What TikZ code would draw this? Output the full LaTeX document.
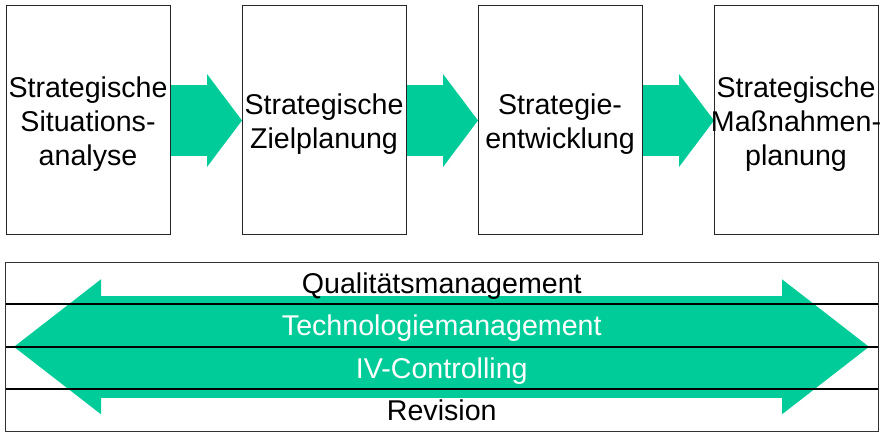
\documentclass[tikz,border=0pt]{standalone}
\usepackage{fontspec}
\setmainfont{Liberation Sans}
\usetikzlibrary{positioning,arrows.meta,backgrounds}
\definecolor{flowgreen}{RGB}{0,204,153}

\begin{document}
\begin{tikzpicture}[x=1pt,y=-1pt,
  font=\fontsize{28.6}{34}\selectfont,
  stage/.style={shape=rectangle, draw=black!85, line width=1pt,
    minimum width=164pt, minimum height=229pt, inner sep=0pt, outer sep=0pt},
  stagetext/.style={align=center, inner sep=0pt, yshift=-4pt},
  band/.style={shape=rectangle, draw=black!80, line width=1pt,
    minimum width=872.5pt, minimum height=42.4pt, inner sep=0pt, outer sep=0pt,
    text height=20.5pt, text depth=0pt},
  flow/.style={flowgreen, line width=71pt,
    -{Triangle[length=35pt 0 0, width=93pt 0 0, line width=0pt 0 0]}},
  bigflow/.style={flowgreen, line width=102pt,
    {Triangle[length=87pt 0 0, width=135pt 0 0, line width=0pt 0 0]}-{Triangle[length=87pt 0 0, width=135pt 0 0, line width=0pt 0 0]}},
  sepline/.style={black, line width=2pt}]
  \useasboundingbox (0,0) rectangle (885,438);
  % planning stages
  \node[stage] (b1) at (88,120.5) {};
  \node[stage, right=72pt of b1] (b2) {};
  \node[stage, right=72pt of b2] (b3) {};
  \node[stage, right=72pt of b3] (b4) {};
  \node[stagetext] (t1) at (b1) {Strategische\\Situations-\\analyse};
  \node[stagetext] (t2) at (b2) {Strategische\\Zielplanung};
  \node[stagetext] (t3) at (b3) {Strategie-\\entwicklung};
  \node[stagetext] (t4) at (b4) {Strategische\\Maßnahmen-\\planung};
  % cross-cutting functions
  \node[band] (r1) at (441.75,283.2) {Qualitätsmanagement};
  \node[band, below=0pt of r1, text=white] (r2) {Technologiemanagement};
  \node[band, below=0pt of r2, text=white] (r3) {IV-Controlling};
  \node[band, below=0pt of r3] (r4) {Revision};
  \begin{scope}[on background layer]
    \foreach \a/\b in {b1/b2,b2/b3,b3/b4}
      \draw[flow] (\a.east) -- (\b.west);
    \draw[bigflow] ([xshift=8.5pt]r2.south west) -- ([xshift=-9pt]r2.south east);
  \end{scope}
  \foreach \r in {r1,r2,r3}
    \draw[sepline] (\r.south west) -- (\r.south east);
\end{tikzpicture}
\end{document}
